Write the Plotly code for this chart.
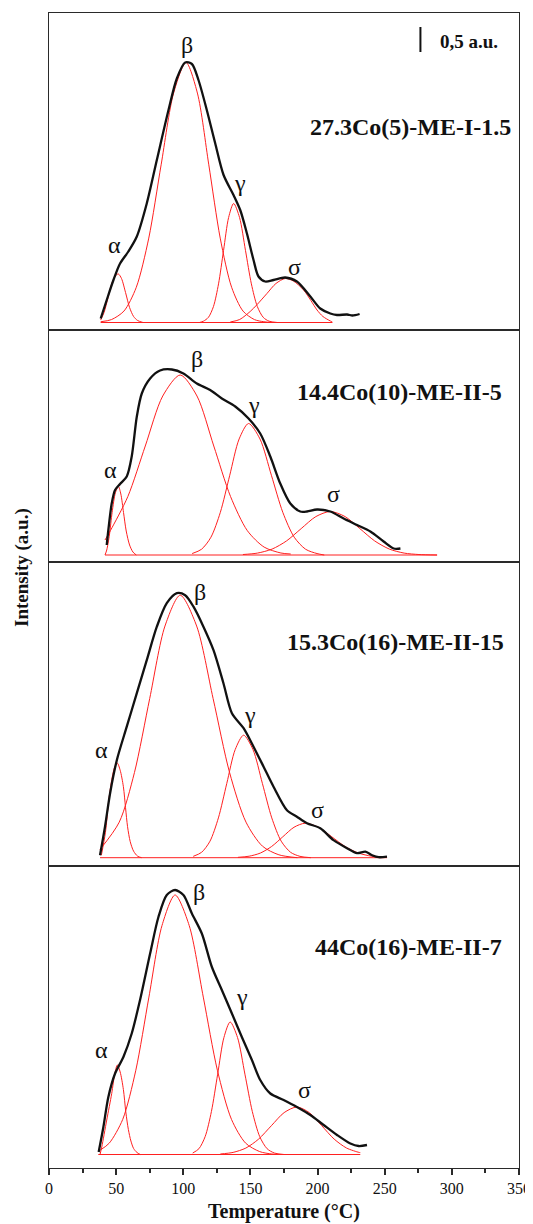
import plotly.graph_objects as go
from plotly.subplots import make_subplots

# ---------------- data (temperature in °C, intensity in a.u. above each baseline) ----------------
temperature_ticks = [0, 50, 100, 150, 200, 250, 300, 350]
scale_bar_T = 276.6
scale_bar_I = [5.41, 5.91]   # 0.5 a.u. bar
scale_bar_label = "0,5 a.u."
peak_names = ["α", "β", "γ", "σ"]

# Panel 1 : 27.3Co(5)-ME-I-1.5
p1_name = "27.3Co(5)-ME-I-1.5"
p1_T = [38.5, 43.0, 48.0, 52.9, 59.1, 65.4, 72.8, 80.3, 89.0, 95.2, 101.4, 106.4, 111.3, 117.5, 123.8,
        130.0, 137.4, 142.4, 147.4, 152.3, 156.0, 161.0, 167.2, 175.9, 184.6, 194.6, 202.0, 209.5, 214.5,
        222.0, 226.0, 231.3]
p1_I = [0.08, 0.45, 0.85, 1.18, 1.42, 1.72, 2.38, 3.25, 4.25, 4.88, 5.20, 5.17, 4.85, 4.25, 3.58,
        2.95, 2.55, 2.25, 1.78, 1.25, 0.92, 0.82, 0.85, 0.90, 0.82, 0.52, 0.28, 0.18, 0.15,
        0.16, 0.14, 0.17]
p1_alpha_T = [38.5, 41, 44, 47, 50, 51.7, 54, 57, 60, 63, 66, 70]
p1_alpha_I = [0.05, 0.2, 0.5, 0.8, 0.95, 0.97, 0.88, 0.6, 0.3, 0.12, 0.04, 0.0]
p1_beta_T = [38.5, 46.5, 55.8, 65.0, 74.3, 83.5, 92.8, 102.0, 110.5, 119.0, 127.5, 136.0, 144.5, 153.0, 160.0, 166.0]
p1_beta_I = [0.015, 0.058, 0.228, 0.704, 1.688, 3.154, 4.589, 5.20, 4.589, 3.154, 1.688, 0.704, 0.228, 0.058, 0.015, 0.0]
p1_gamma_T = [112, 115.0, 118.75, 122.5, 126.25, 130.0, 133.75, 137.5, 141.9, 146.3, 150.7, 155.1, 159.5, 163.9, 170]
p1_gamma_I = [0.0, 0.026, 0.104, 0.322, 0.773, 1.443, 2.10, 2.38, 2.10, 1.443, 0.773, 0.322, 0.104, 0.026, 0.0]
p1_sigma_T = [135, 142, 149.8, 155, 162.3, 169, 175.9, 182, 189.6, 195, 199.6, 204, 209.5, 211]
p1_sigma_I = [0.01, 0.06, 0.22, 0.36, 0.58, 0.78, 0.88, 0.83, 0.65, 0.44, 0.25, 0.12, 0.03, 0.01]
p1_base_T = [38.5, 211]

# Panel 2 : 14.4Co(10)-ME-II-5
p2_name = "14.4Co(10)-ME-II-5"
p2_T = [43.0, 44.2, 46.7, 49.2, 52.9, 57.9, 61.6, 65.4, 69.1, 75.3, 82.7, 91.5, 100.1, 110.1, 120.0,
        128.7, 138.7, 148.6, 157.3, 164.8, 172.2, 179.7, 187.1, 192.1, 199.6, 209.5, 219.4, 229.4,
        239.3, 249.2, 256.7, 261.7]
p2_I = [0.20, 0.50, 1.03, 1.30, 1.42, 1.57, 1.97, 2.77, 3.23, 3.53, 3.69, 3.71, 3.63, 3.43, 3.30,
        3.13, 2.97, 2.73, 2.43, 1.97, 1.43, 1.03, 0.87, 0.87, 0.91, 0.87, 0.73, 0.60,
        0.47, 0.27, 0.13, 0.13]
p2_alpha_T = [41.7, 43, 45, 47, 49.5, 51.7, 53.5, 55.5, 57.5, 60, 62.5, 65]
p2_alpha_I = [0.0, 0.1, 0.4, 0.85, 1.25, 1.37, 1.22, 0.85, 0.48, 0.2, 0.06, 0.0]
p2_beta_T = [41.7, 45.7, 58.7, 71.7, 84.7, 97.7, 110.2, 122.7, 135.2, 147.7, 160.2, 172.7, 180]
p2_beta_I = [0.3, 0.487, 1.169, 2.18, 3.18, 3.6, 3.18, 2.18, 1.169, 0.487, 0.158, 0.04, 0.02]
p2_gamma_T = [106.6, 113.6, 120.6, 127.6, 134.6, 141.6, 148.6, 157.1, 165.6, 174.1, 182.6, 191.1, 199.6, 205]
p2_gamma_I = [0.029, 0.115, 0.356, 0.854, 1.595, 2.321, 2.63, 2.321, 1.595, 0.854, 0.356, 0.115, 0.029, 0.0]
p2_sigma_T = [144.4, 155.2, 166.1, 176.9, 187.8, 198.7, 209.5, 220.5, 231.5, 242.5, 253.5, 264.5, 275.5, 289]
p2_sigma_I = [0.0097, 0.038, 0.118, 0.282, 0.528, 0.768, 0.87, 0.768, 0.528, 0.282, 0.118, 0.038, 0.0097, 0.0]
p2_base_T = [41.7, 289]

# Panel 3 : 15.3Co(16)-ME-II-15
p3_name = "15.3Co(16)-ME-II-15"
p3_T = [38.0, 41.7, 45.5, 50.5, 57.9, 65.4, 72.8, 80.3, 87.7, 95.2, 101.4, 107.6, 115.0, 122.5, 129.9,
        136.2, 144.9, 152.3, 159.8, 167.2, 177.2, 184.6, 192.1, 202.0, 211.9, 221.9, 229.4, 235.6,
        240.6, 245.5, 251.7]
p3_I = [0.05, 0.62, 1.29, 1.95, 2.62, 3.29, 3.95, 4.62, 5.09, 5.29, 5.25, 5.02, 4.62, 4.15, 3.49,
        2.89, 2.59, 2.22, 1.82, 1.42, 0.95, 0.82, 0.69, 0.59, 0.35, 0.19, 0.09, 0.12,
        0.05, 0.01, 0.02]
p3_alpha_T = [39.0, 42.0, 44.5, 47.0, 49.0, 50.9, 53.0, 55.4, 57.0, 58.5, 60.5, 63.0, 66.0, 69.0]
p3_alpha_I = [0.05, 0.5, 1.15, 1.6, 1.82, 1.89, 1.75, 1.42, 1.0, 0.62, 0.32, 0.13, 0.03, 0.0]
p3_beta_T = [38.0, 52.3, 63.65, 75.0, 86.35, 97.7, 109.95, 122.2, 134.45, 146.7, 158.95, 171.2, 185]
p3_beta_I = [0.165, 0.711, 1.705, 3.184, 4.633, 5.25, 4.633, 3.184, 1.705, 0.711, 0.231, 0.058, 0.0]
p3_gamma_T = [107.4, 113.65, 119.9, 126.15, 132.4, 138.65, 144.9, 151.9, 158.9, 165.9, 172.9, 179.9, 186.9, 195]
p3_gamma_I = [0.027, 0.108, 0.331, 0.796, 1.486, 2.162, 2.45, 2.162, 1.486, 0.796, 0.331, 0.108, 0.027, 0.0]
p3_sigma_T = [140.7, 149.05, 157.4, 165.75, 174.1, 182.45, 190.8, 200.7, 210.6, 220.5, 230.4, 240.3, 250.2, 251.7]
p3_sigma_I = [0.0077, 0.03, 0.093, 0.224, 0.418, 0.609, 0.69, 0.609, 0.418, 0.224, 0.093, 0.03, 0.0077, 0.005]
p3_base_T = [38.0, 251.7]

# Panel 4 : 44Co(16)-ME-II-7
p4_name = "44Co(16)-ME-II-7"
p4_T = [37.0, 40.5, 44.2, 49.2, 55.4, 61.6, 67.8, 75.3, 81.5, 87.7, 93.9, 100.1, 106.4, 113.8, 121.3,
        128.7, 136.2, 143.6, 151.1, 157.3, 164.8, 174.7, 184.6, 194.6, 204.5, 214.5, 224.4, 230.6, 236.8]
p4_I = [0.05, 0.55, 1.15, 1.62, 1.95, 2.42, 3.09, 4.02, 4.75, 5.19, 5.29, 5.19, 4.82, 4.42, 3.75,
        3.29, 2.82, 2.35, 1.89, 1.49, 1.22, 1.09, 0.95, 0.79, 0.59, 0.39, 0.22, 0.17, 0.19]
p4_alpha_T = [38, 39.3, 43, 46.7, 49, 50.9, 53, 55.4, 57.2, 59.1, 61, 63, 65.5, 68]
p4_alpha_I = [0.0, 0.15, 0.69, 1.22, 1.62, 1.79, 1.65, 1.3, 0.85, 0.5, 0.27, 0.12, 0.04, 0.0]
p4_beta_T = [38.0, 44.9, 54.9, 64.65, 74.4, 84.15, 93.9, 104.4, 114.9, 125.4, 135.9, 146.4, 156.9, 166, 172]
p4_beta_I = [0.085, 0.228, 0.702, 1.685, 3.148, 4.58, 5.19, 4.58, 3.148, 1.685, 0.702, 0.228, 0.058, 0.01, 0.0]
p4_gamma_T = [107.0, 111.65, 116.3, 120.95, 125.6, 130.25, 134.9, 140.4, 145.9, 151.4, 156.9, 162.4, 167.9, 175]
p4_gamma_I = [0.029, 0.116, 0.359, 0.86, 1.607, 2.339, 2.65, 2.339, 1.607, 0.86, 0.359, 0.116, 0.029, 0.0]
p4_sigma_T = [127.6, 137.1, 146.6, 156.1, 165.6, 175.1, 184.6, 193.85, 203.1, 212.35, 221.6, 230.85, 231.8]
p4_sigma_I = [0.0105, 0.042, 0.129, 0.308, 0.576, 0.838, 0.95, 0.838, 0.576, 0.308, 0.129, 0.042, 0.038]
p4_base_T = [36.7, 231.8]

# ---------------- figure ----------------
# The page body has an 8px default margin, so the figure is drawn 8px smaller
# and its plot area is placed at the reference's page position.
OFF = 8
W, H = 533 - OFF, 1224 - OFF
PL, PR, PT, PB = 49, 519, 13, 1168          # plot area in page pixels
ML, MR, MT, MB = PL - OFF, 533 - PR, PT - OFF, 1224 - PB
PW, PH = PR - PL, PB - PT
FONT = "Liberation Serif, Times New Roman, serif"
BLACK = "#111111"
RED = "#ff2020"
FRAME = "#2a2a2a"
FRAME_W = 1.3

# panel pixel bounds (top, bottom) and baseline pixel, in page pixels
panel_px = [(13, 330, 322.5), (330, 562, 555.0), (562, 866, 857.7), (866, 1168, 1154.5)]
PX_PER_AU = 50.0

panels = [
    dict(name=p1_name, T=p1_T, I=p1_I,
         comps=[(p1_alpha_T, p1_alpha_I), (p1_beta_T, p1_beta_I), (p1_gamma_T, p1_gamma_I), (p1_sigma_T, p1_sigma_I)],
         base=p1_base_T,
         labels=[(48.5, 1.55), (102.7, 5.55), (142.4, 2.79), (182.6, 1.11)], name_pos=(345.9, 3.92)),
    dict(name=p2_name, T=p2_T, I=p2_I,
         comps=[(p2_alpha_T, p2_alpha_I), (p2_beta_T, p2_beta_I), (p2_gamma_T, p2_gamma_I), (p2_sigma_T, p2_sigma_I)],
         base=p2_base_T,
         labels=[(46.0, 1.70), (110.1, 3.93), (152.3, 3.00), (212.0, 1.23)], name_pos=(338.5, 3.27)),
    dict(name=p3_name, T=p3_T, I=p3_I,
         comps=[(p3_alpha_T, p3_alpha_I), (p3_beta_T, p3_beta_I), (p3_gamma_T, p3_gamma_I), (p3_sigma_T, p3_sigma_I)],
         base=p3_base_T,
         labels=[(39.3, 2.15), (112.6, 5.32), (149.8, 2.85), (199.6, 0.95)], name_pos=(340.0, 4.32)),
    dict(name=p4_name, T=p4_T, I=p4_I,
         comps=[(p4_alpha_T, p4_alpha_I), (p4_beta_T, p4_beta_I), (p4_gamma_T, p4_gamma_I), (p4_sigma_T, p4_sigma_I)],
         base=p4_base_T,
         labels=[(39.3, 2.09), (112.0, 5.26), (143.7, 3.16), (190.1, 1.29)], name_pos=(338.5, 4.16)),
]

fig = make_subplots(rows=4, cols=1, shared_xaxes=True, vertical_spacing=0)

annotations = []
for i, p in enumerate(panels):
    row = i + 1
    sfx = "" if row == 1 else str(row)
    top, bot, base = panel_px[i]
    fig.add_trace(go.Scatter(x=p["base"], y=[0, 0], mode="lines",
                             line=dict(color=RED, width=1), hoverinfo="skip", showlegend=False), row=row, col=1)
    for (ct, ci) in p["comps"]:
        fig.add_trace(go.Scatter(x=ct, y=ci, mode="lines",
                                 line=dict(color=RED, width=1, shape="spline", smoothing=0.8),
                                 showlegend=False), row=row, col=1)
    fig.add_trace(go.Scatter(x=p["T"], y=p["I"], mode="lines",
                             line=dict(color=BLACK, width=2.3, shape="spline", smoothing=0.8),
                             showlegend=False), row=row, col=1)
    y0 = -(bot - base) / PX_PER_AU
    y1 = (base - top) / PX_PER_AU
    dom = [(PB - bot) / PH, (PB - top) / PH]
    fig.update_layout(**{
        "yaxis" + sfx: dict(range=[y0, y1], domain=dom, showticklabels=False, ticks="",
                            showgrid=False, zeroline=False, showline=True, mirror=True,
                            linecolor=FRAME, linewidth=FRAME_W),
        "xaxis" + sfx: dict(range=[0, 350], showgrid=False, zeroline=False, showline=True,
                            mirror=True, linecolor=FRAME, linewidth=FRAME_W,
                            showticklabels=(row == 4), ticks=("outside" if row == 4 else "")),
    })
    xr, yr = "x" + sfx, "y" + sfx
    for name, (lx, ly) in zip(peak_names, p["labels"]):
        annotations.append(dict(x=lx, y=ly, xref=xr, yref=yr, text=name, showarrow=False,
                                xanchor="center", yanchor="middle",
                                font=dict(family=FONT, size=24, color=BLACK)))
    annotations.append(dict(x=p["name_pos"][0], y=p["name_pos"][1], xref=xr, yref=yr,
                            text="<b>" + p["name"] + "</b>", showarrow=False,
                            xanchor="right", yanchor="middle",
                            font=dict(family=FONT, size=24, color=BLACK)))

# scale bar in panel 1
fig.add_trace(go.Scatter(x=[scale_bar_T, scale_bar_T], y=scale_bar_I, mode="lines",
                         line=dict(color=BLACK, width=2), showlegend=False), row=1, col=1)
annotations.append(dict(x=290.0, y=5.62, xref="x", yref="y", text="<b>" + scale_bar_label + "</b>",
                        showarrow=False, xanchor="left", yanchor="middle",
                        font=dict(family=FONT, size=19, color=BLACK)))

# axis titles
annotations.append(dict(x=(283.5 - PL) / PW, y=(PB - 1211) / PH, xref="paper", yref="paper",
                        text="<b>Temperature (°C)</b>", showarrow=False,
                        xanchor="center", yanchor="middle", borderpad=0,
                        font=dict(family=FONT, size=20, color=BLACK)))
annotations.append(dict(x=(22 - PL) / PW, y=(PB - 568) / PH, xref="paper", yref="paper",
                        text="<b>Intensity (a.u.)</b>", showarrow=False, textangle=-90,
                        xanchor="center", yanchor="middle", borderpad=0,
                        font=dict(family=FONT, size=19, color=BLACK)))

fig.update_layout(
    width=W, height=H,
    margin=dict(l=ML, r=MR, t=MT, b=MB, pad=0, autoexpand=False),
    paper_bgcolor="white", plot_bgcolor="white",
    showlegend=False,
    annotations=annotations,
    font=dict(family=FONT, color=BLACK),
)
fig.update_layout(xaxis4=dict(tickvals=temperature_ticks, ticklen=6, tickwidth=1.5, tickcolor=FRAME,
                              tickfont=dict(family=FONT, size=16, color=BLACK),
                              minor=dict(dtick=25, ticklen=4, tickwidth=1.5, ticks="outside", tickcolor=FRAME)))

fig.write_html("out.html")
